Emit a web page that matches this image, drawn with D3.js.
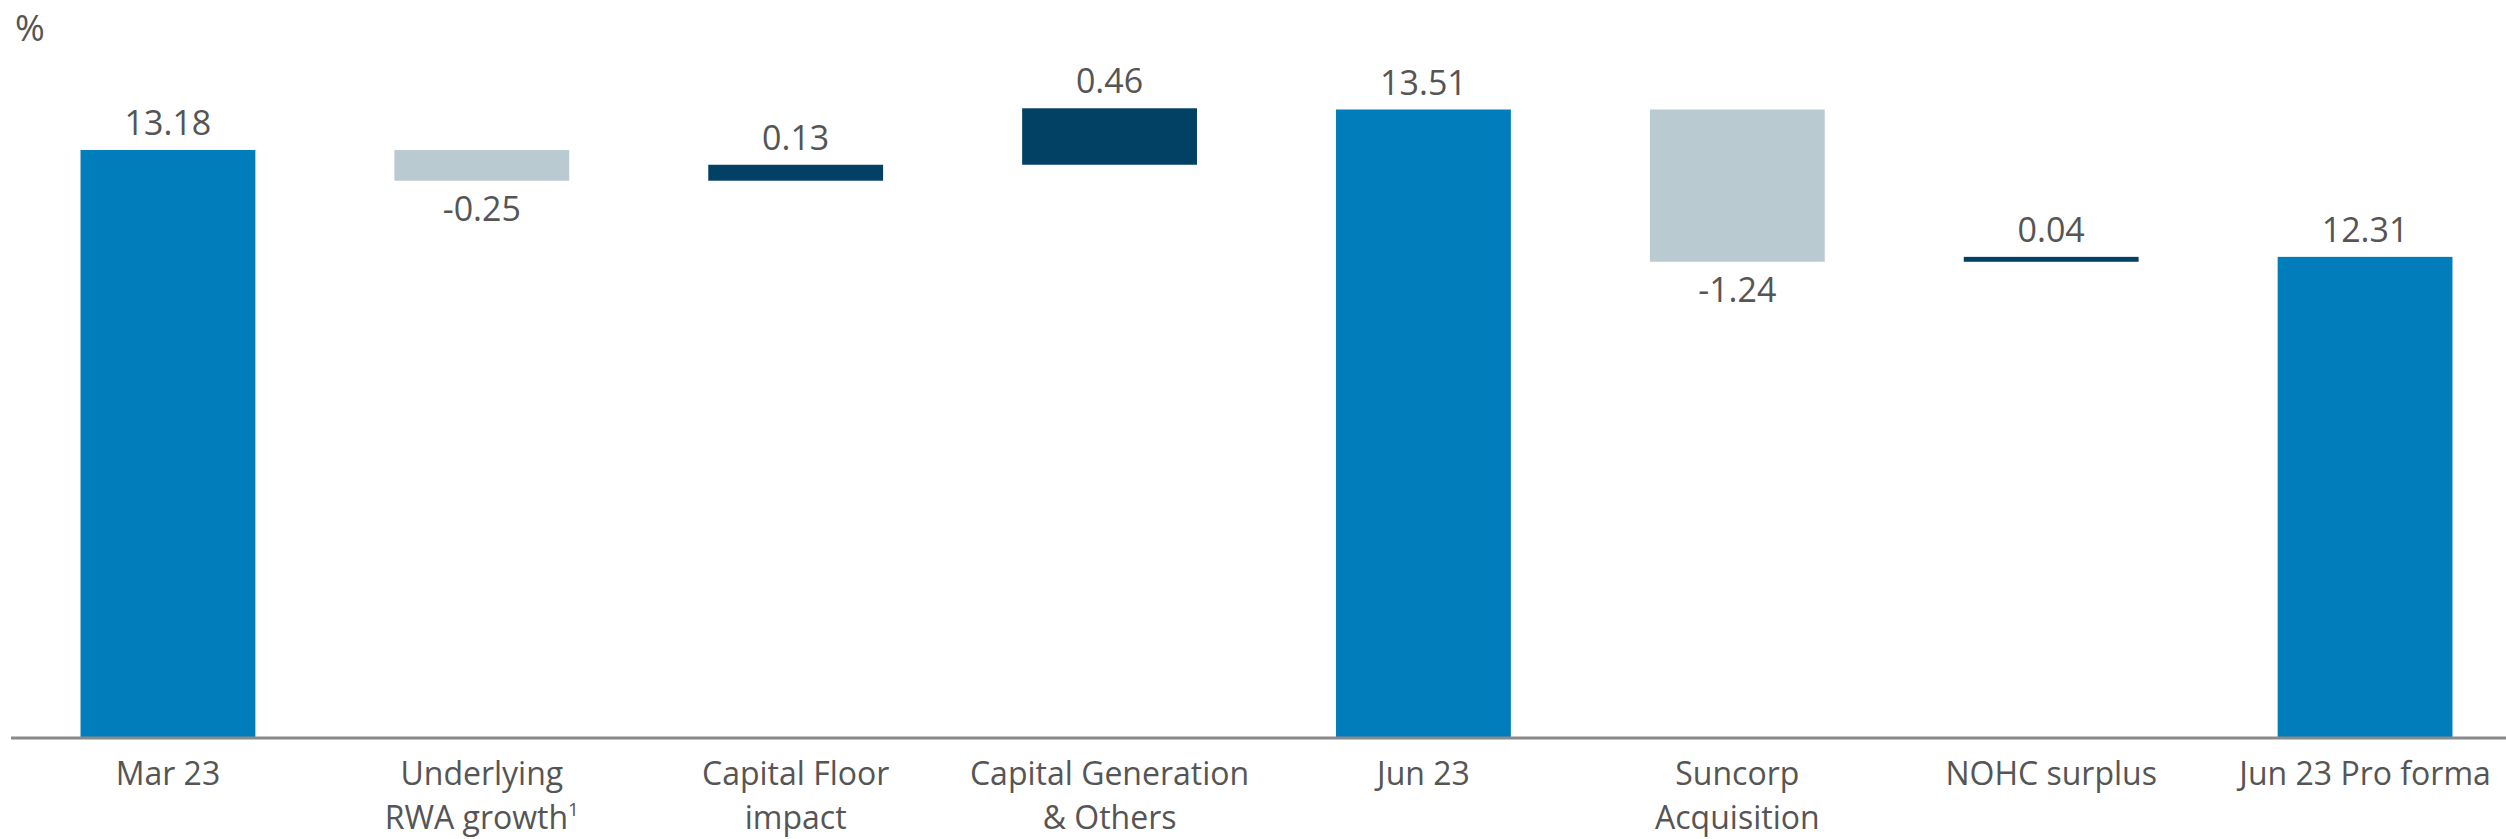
<!DOCTYPE html>
<html>
<head>
<meta charset="utf-8">
<script src="https://cdn.jsdelivr.net/npm/d3@7"></script>
<style>
  html, body { margin: 0; padding: 0; background: #fff; }
  svg { display: block; }
  text { font-family: "Open Sans", "Noto Sans", sans-serif; fill: #555; }
</style>
</head>
<body>
<div id="chart"></div>
<script>
// chart data
const categories = ["Mar 23", "Underlying RWA growth", "Capital Floor impact", "Capital Generation & Others",
                    "Jun 23", "Suncorp Acquisition", "NOHC surplus", "Jun 23 Pro forma"];
const labelLines = [["Mar 23"], ["Underlying", "RWA growth"], ["Capital Floor", "impact"], ["Capital Generation", "& Others"],
                    ["Jun 23"], ["Suncorp", "Acquisition"], ["NOHC surplus"], ["Jun 23 Pro forma"]];
const values = [13.18, -0.25, 0.13, 0.46, 13.51, -1.24, 0.04, 12.31];
const kinds = ["total", "delta", "delta", "delta", "total", "delta", "delta", "total"];
const footnotes = [null, "1", null, null, null, null, null, null];

const width = 2506, height = 839;
const colors = { total: "#007dba", up: "#024064", down: "#b9cad1" };

// running totals for the waterfall
let run = 0;
const bars = categories.map((c, i) => {
    let lo, hi;
    if (kinds[i] === "total") { lo = null; hi = values[i]; run = values[i]; }
    else { const start = run; run = run + values[i]; lo = Math.min(start, run); hi = Math.max(start, run); }
    return { cat: c, value: values[i], kind: kinds[i], lo: lo, hi: hi, lines: labelLines[i], note: footnotes[i] };
});

const svg = d3.select("#chart").append("svg")
    .attr("width", width)
    .attr("height", height);

const x = d3.scaleBand()
    .domain(categories)
    .range([11, 2522])
    .paddingInner(0.443)
    .paddingOuter(0.2215);

const y = d3.scaleLinear()
    .domain([8.4, 13.51])
    .range([737, 109.5]);

const base = y.domain()[0];

// bars
svg.selectAll(".bar")
    .data(bars)
    .enter().append("rect")
    .attr("class", "bar")
    .attr("x", d => x(d.cat))
    .attr("width", x.bandwidth())
    .attr("y", d => y(d.hi))
    .attr("height", d => (d.lo === null ? y(base) : y(d.lo)) - y(d.hi))
    .attr("fill", d => d.kind === "total" ? colors.total : (d.value < 0 ? colors.down : colors.up));

// value labels (plain hyphen for negatives, as in the source)
svg.selectAll(".val")
    .data(bars)
    .enter().append("text")
    .attr("class", "val")
    .attr("x", d => x(d.cat) + x.bandwidth() / 2)
    .attr("y", d => (d.kind === "delta" && d.value < 0) ? y(d.lo) + 40 : y(d.hi) - 15)
    .attr("text-anchor", "middle")
    .style("font-size", "34px")
    .text(d => d.value.toFixed(2));

// baseline axis
svg.append("line")
    .attr("x1", 11)
    .attr("x2", width)
    .attr("y1", y(base) + 1)
    .attr("y2", y(base) + 1)
    .attr("stroke", "#8a8a8a")
    .attr("stroke-width", 3);

// category labels
const cat = svg.selectAll(".cat")
    .data(bars)
    .enter().append("text")
    .attr("class", "cat")
    .attr("text-anchor", "middle")
    .style("font-size", "32px");

cat.each(function (d) {
    const t = d3.select(this);
    const cx = x(d.cat) + x.bandwidth() / 2;
    d.lines.forEach((line, j) => {
        t.append("tspan")
            .attr("x", cx)
            .attr("y", 785 + j * 44)
            .text(line);
        if (d.note && j === d.lines.length - 1) {
            t.append("tspan")
                .attr("dy", -13)
                .style("font-size", "19px")
                .text(d.note);
        }
    });
});

// unit label
svg.append("text")
    .attr("x", 15)
    .attr("y", 41)
    .style("font-size", "36px")
    .text("%");
</script>
</body>
</html>
